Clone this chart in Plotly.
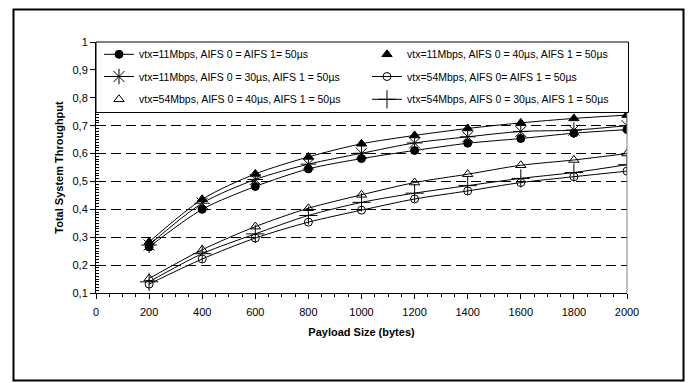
import plotly.graph_objects as go

# ---- data ----
payload = [200, 400, 600, 800, 1000, 1200, 1400, 1600, 1800, 2000]
s11_eq = [0.265, 0.400, 0.482, 0.545, 0.582, 0.611, 0.637, 0.654, 0.673, 0.686]
s11_40 = [0.283, 0.436, 0.527, 0.588, 0.635, 0.665, 0.690, 0.710, 0.726, 0.738]
s11_30 = [0.272, 0.422, 0.507, 0.562, 0.601, 0.638, 0.660, 0.679, 0.684, 0.700]
s54_eq = [0.132, 0.222, 0.297, 0.354, 0.397, 0.437, 0.466, 0.496, 0.517, 0.537]
s54_40 = [0.152, 0.255, 0.338, 0.404, 0.452, 0.496, 0.526, 0.558, 0.577, 0.600]
s54_30 = [0.140, 0.241, 0.312, 0.378, 0.425, 0.458, 0.485, 0.511, 0.532, 0.560]

names = [
    "vtx=11Mbps, AIFS 0 = AIFS 1= 50µs",
    "vtx=11Mbps, AIFS 0 = 40µs, AIFS 1 = 50µs",
    "vtx=11Mbps, AIFS 0 = 30µs, AIFS 1 = 50µs",
    "vtx=54Mbps, AIFS 0= AIFS 1 = 50µs",
    "vtx=54Mbps, AIFS 0 = 40µs, AIFS 1 = 50µs",
    "vtx=54Mbps, AIFS 0 = 30µs, AIFS 1 = 50µs",
]
ytickvals = [0.1, 0.2, 0.3, 0.4, 0.5, 0.6, 0.7, 0.8, 0.9, 1.0]
yticktext = ["0,1", "0,2", "0,3", "0,4", "0,5", "0,6", "0,7", "0,8", "0,9", "1"]
xtickvals = [0, 200, 400, 600, 800, 1000, 1200, 1400, 1600, 1800, 2000]

W, H = 690, 383
ML, MR, MT, MB = 96, 63, 42, 90
PW, PH = W - ML - MR, H - MT - MB
FONT = "Liberation Sans, Arial, sans-serif"

def px2paper_x(px):
    return (px - ML) / PW

def px2paper_y(py):
    return (H - MB - py) / PH

fig = go.Figure()
LC = "black"

legend_ids = ["legend", "legend2", "legend3", "legend4", "legend5", "legend6"]
series = [
    (s11_eq, names[0], "circle", 8, True),
    (s11_40, names[1], "triangle-up", 9, False),
    (s11_30, names[2], "asterisk-open", 13, True),
    (s54_eq, names[3], "circle-open", 8, True),
    (s54_40, names[4], "triangle-up-open", 9, False),
    (s54_30, names[5], "cross-thin-open", 13, True),
]

for (y, name, sym, size, legline), leg in zip(series, legend_ids):
    marker = dict(symbol=sym, size=size, color=LC, line=dict(color=LC, width=1))
    if legline:
        fig.add_trace(go.Scatter(x=payload, y=y, name=name, mode="lines+markers",
                                 line=dict(color=LC, width=1, shape="spline", smoothing=0.8),
                                 marker=marker, legend=leg))
    else:
        fig.add_trace(go.Scatter(x=payload, y=y, name=name, mode="lines",
                                 line=dict(color=LC, width=1, shape="spline", smoothing=0.8),
                                 showlegend=False, hoverinfo="skip"))
        fig.add_trace(go.Scatter(x=payload, y=y, name=name, mode="markers",
                                 marker=marker, legend=leg))

rows = [54.3, 76.5, 99.3]
cols = [99, 367]
legend_layout = {}
for i, leg in enumerate(legend_ids):
    r, c = divmod(i, 2)
    legend_layout[leg] = dict(orientation="h", x=px2paper_x(cols[c]), xanchor="left",
                              y=px2paper_y(rows[r]), yanchor="middle",
                              bgcolor="rgba(0,0,0,0)", borderwidth=0,
                              font=dict(family=FONT, size=10.5, color="black"))

shapes = [
    dict(type="rect", xref="paper", yref="paper",
         x0=px2paper_x(13.5), x1=px2paper_x(683.5), y0=px2paper_y(380.5), y1=px2paper_y(9.5),
         line=dict(color="black", width=2), fillcolor="rgba(0,0,0,0)", layer="below"),
    dict(type="line", xref="paper", yref="paper", x0=1, x1=1, y0=0, y1=1,
         line=dict(color="#808080", width=1), layer="above"),
    dict(type="rect", xref="paper", yref="paper",
         x0=0, x1=px2paper_x(628.5), y0=px2paper_y(112.5), y1=1,
         line=dict(color="black", width=1), fillcolor="white", layer="above"),
]

fig.update_layout(
    width=W, height=H,
    margin=dict(l=ML, r=MR, t=MT, b=MB, pad=0),
    paper_bgcolor="white", plot_bgcolor="white",
    font=dict(family=FONT, size=11, color="black"),
    showlegend=True,
    shapes=shapes,
    xaxis=dict(range=[0, 2000], tickvals=xtickvals, showgrid=False, zeroline=False,
               showline=True, linecolor="black", linewidth=1,
               ticks="outside", ticklen=5, tickcolor="black", ticklabelstandoff=4,
               minor=dict(dtick=50, ticks="outside", ticklen=3, tickcolor="black", showgrid=False),
               tickfont=dict(size=11),
               title=dict(text="<b>Payload Size (bytes)</b>", font=dict(size=11), standoff=11)),
    yaxis=dict(range=[0.1, 1.0], tickvals=ytickvals, ticktext=yticktext,
               showgrid=True, gridcolor="black", gridwidth=1, griddash="10px,5px",
               zeroline=False, showline=True, linecolor="black", linewidth=1,
               ticks="outside", ticklen=5, tickcolor="black",
               minor=dict(dtick=0.01, ticks="inside", ticklen=3, tickcolor="black", showgrid=False),
               tickfont=dict(size=11),
               title=dict(text="<b>Total System Throughput</b>", font=dict(size=11), standoff=6)),
    **legend_layout,
)

fig.write_html("out.html", post_script="document.body.style.margin='0';",
               config={"displayModeBar": False})
